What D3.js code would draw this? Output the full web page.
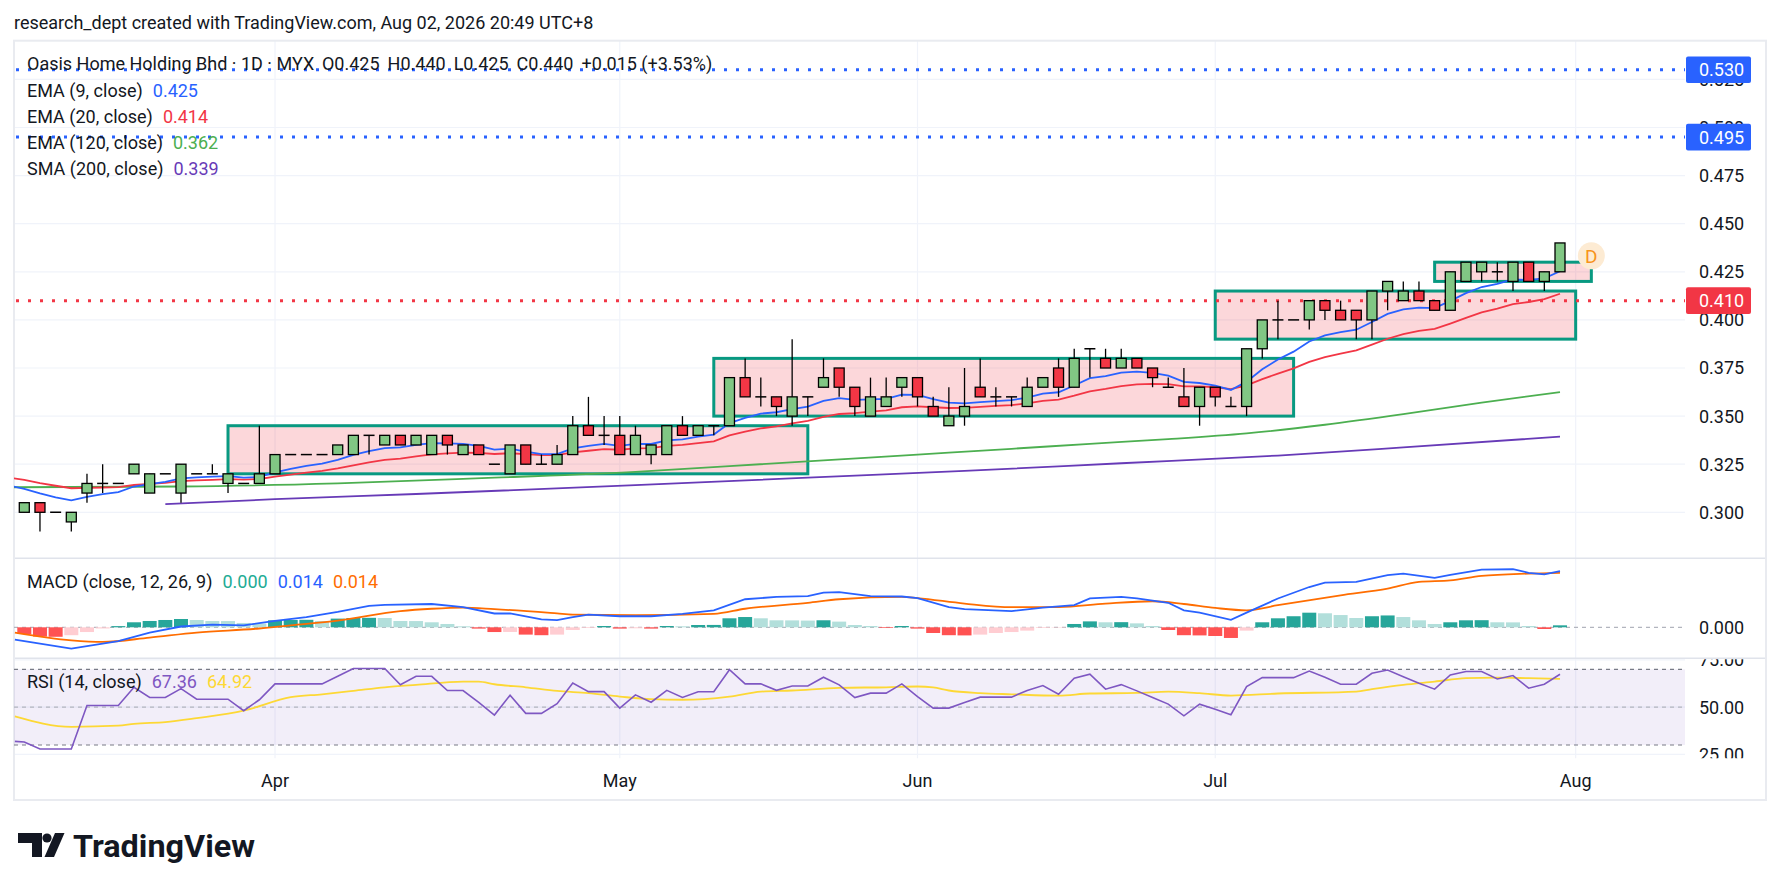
<!DOCTYPE html>
<html><head><meta charset="utf-8">
<script src="https://cdn.jsdelivr.net/npm/d3@7"></script>
<style>
html,body{margin:0;padding:0;background:#fff;}
svg text{font-family:Roboto,"Liberation Sans",Arial,sans-serif;}
</style></head>
<body><svg id="chart" width="1781" height="891"></svg>
<script>
// ---------------- DATA ----------------
const openP  = [.300,.305,.300,.295,.310,.315,.315,.320,.310,.320,.310,.320,.320,.315,.315,.315,.320,.330,.330,.330,
  .330,.330,.340,.335,.340,.335,.330,.340,.330,.335,.325,.320,.335,.325,.325,.330,.345,.340,.340,.330,
  .330,.330,.345,.340,.345,.345,.370,.360,.360,.350,.360,.365,.375,.365,.350,.355,.365,.370,.355,.345,
  .350,.365,.360,.360,.355,.365,.375,.365,.385,.380,.375,.380,.375,.365,.360,.355,.365,.355,.355,.385,
  .400,.400,.400,.410,.405,.405,.400,.415,.410,.415,.410,.405,.420,.425,.425,.420,.430,.420,.425];
const highP  = [.305,.305,.300,.300,.320,.325,.315,.325,.320,.320,.325,.320,.325,.320,.315,.345,.330,.330,.330,.330,
  .335,.340,.340,.340,.340,.340,.340,.340,.335,.335,.325,.335,.335,.330,.335,.350,.360,.350,.350,.345,
  .335,.345,.350,.345,.345,.370,.380,.370,.360,.390,.360,.380,.375,.365,.370,.370,.370,.370,.360,.365,
  .375,.380,.365,.360,.370,.370,.380,.385,.385,.385,.385,.380,.375,.370,.375,.365,.365,.360,.385,.400,
  .410,.400,.410,.410,.410,.405,.415,.420,.420,.420,.410,.425,.430,.430,.430,.430,.430,.425,.440];
const lowP   = [.300,.290,.300,.290,.305,.310,.315,.320,.310,.320,.305,.320,.320,.310,.315,.315,.320,.330,.330,.330,
  .330,.330,.330,.335,.335,.335,.330,.330,.330,.330,.325,.320,.325,.325,.325,.330,.340,.335,.330,.330,
  .325,.330,.340,.340,.340,.345,.360,.355,.350,.345,.350,.365,.360,.350,.350,.355,.360,.355,.350,.345,
  .345,.360,.355,.355,.355,.365,.360,.365,.370,.375,.375,.375,.365,.365,.355,.345,.355,.355,.350,.380,
  .390,.400,.395,.400,.400,.390,.390,.405,.410,.410,.405,.405,.420,.420,.420,.415,.420,.415,.425];
const closeP = [.305,.300,.300,.300,.315,.315,.315,.325,.320,.320,.325,.320,.320,.320,.315,.320,.330,.330,.330,.330,
  .335,.340,.340,.340,.335,.340,.340,.335,.335,.330,.325,.335,.325,.325,.330,.345,.340,.340,.330,.340,
  .335,.345,.340,.345,.345,.370,.360,.360,.355,.360,.360,.370,.365,.355,.360,.360,.370,.360,.350,.350,
  .355,.360,.360,.360,.365,.370,.365,.380,.385,.375,.380,.375,.370,.365,.355,.365,.360,.355,.385,.400,
  .400,.400,.410,.405,.400,.400,.415,.420,.415,.410,.405,.425,.430,.430,.425,.430,.420,.425,.440];

// EMA values read per bar; first value sits one bar before the first candle
const ema9  = [.3140,.3122,.3098,.3078,.3062,.3080,.3094,.3105,.3134,.3147,.3158,.3176,.3181,.3185,.3188,.3180,.3184,.3207,.3226,.3241,.3253,
  .3272,.3298,.3318,.3334,.3337,.3350,.3360,.3358,.3356,.3345,.3326,.3331,.3315,.3302,.3302,.3332,.3345,.3356,.3345,.3356,
  .3355,.3374,.3379,.3393,.3404,.3464,.3491,.3513,.3520,.3536,.3549,.3579,.3593,.3584,.3587,.3590,.3612,.3610,.3588,.3570,
  .3566,.3573,.3578,.3583,.3596,.3617,.3624,.3659,.3697,.3708,.3726,.3731,.3725,.3710,.3678,.3672,.3658,.3636,.3679,.3743,
  .3794,.3835,.3888,.3920,.3936,.3949,.3989,.4031,.4055,.4064,.4061,.4099,.4139,.4171,.4187,.4210,.4208,.4216,.4253];
const ema20 = [.3180,.3168,.3152,.3138,.3125,.3127,.3129,.3131,.3142,.3148,.3153,.3162,.3166,.3169,.3172,.3170,.3173,.3185,.3196,.3206,.3215,
  .3228,.3244,.3259,.3272,.3279,.3291,.3301,.3306,.3310,.3309,.3303,.3307,.3302,.3297,.3297,.3312,.3320,.3328,.3325,.3332,
  .3334,.3345,.3350,.3360,.3369,.3400,.3419,.3436,.3447,.3462,.3475,.3496,.3511,.3515,.3523,.3530,.3546,.3551,.3546,.3542,
  .3543,.3548,.3553,.3557,.3566,.3579,.3586,.3606,.3629,.3641,.3656,.3665,.3668,.3666,.3655,.3655,.3650,.3640,.3660,.3692,
  .3721,.3748,.3782,.3807,.3825,.3842,.3871,.3902,.3926,.3943,.3953,.3981,.4011,.4039,.4059,.4082,.4093,.4108,.4136];
// slow averages read at sample bars [barIndex, value]
const ema120 = [[-1,.3130],[10,.3134],[20,.3150],[30,.3180],[39,.3210],[45,.3240],[51,.3270],[57,.3300],[63,.3330],[68,.3356],
  [73,.3380],[78,.3410],[83,.3455],[88,.3510],[93,.3570],[98,.3625]];
const sma200 = [[9,.3043],[16,.3068],[25,.3095],[39,.3141],[50,.3180],[60,.3215],[70,.3255],[80,.3295],[88,.3337],[98,.3393]];

// MACD
const macdHist = [-0.0017,-0.00235,-0.0024,-0.0020,-0.0012,-0.0003,0.0003,0.00127,0.0016,0.00185,
  0.0021,0.00185,0.0016,0.00158,0.0011,0.00094,0.00177,0.00185,0.0019,0.0016,
  0.0022,0.00235,0.0024,0.00235,0.0016,0.00158,0.00127,0.00084,0.00025,-0.00033,
  -0.0012,-0.00118,-0.00185,-0.0020,-0.00185,-0.00068,-0.00018,0.00033,-0.00033,-0.00025,
  -0.00033,0.00033,0.00025,0.00058,0.0006,0.00228,0.0026,0.00228,0.00177,0.00175,
  0.0017,0.00178,0.00144,0.00058,0.00033,-0.00018,0.00033,-0.00033,-0.00144,-0.0020,
  -0.00205,-0.00185,-0.00144,-0.0012,-0.00084,-0.00018,-0.0001,0.00084,0.0015,0.00127,
  0.0013,0.001,0.00033,-0.00068,-0.0020,-0.00205,-0.0022,-0.0027,-0.00084,0.00127,
  0.00228,0.0028,0.0037,0.00355,0.0031,0.00235,0.0028,0.003,0.0026,0.00177,
  0.00084,0.00127,0.00177,0.0018,0.00127,0.00125,0.00033,-0.00043,0.0005];
const macdLine = [[-0.6,-0.0031],[3,-0.0054],[6,-0.0035],[8,-0.00135],[10,0.0002],[12,0.0007],[14,0.0005],[16,0.0016],[18,0.0026],
  [20,0.0039],[22,0.0054],[23,0.0057],[26,0.0059],[28,0.0051],[30,0.0035],[31,0.0035],[33,0.0020],[34,0.0018],[35,0.0026],
  [36,0.0032],[38,0.0028],[40,0.0028],[42,0.0034],[44,0.0043],[46,0.0071],[48,0.0077],[50,0.0079],[51,0.0088],[52,0.0089],
  [54,0.0079],[56,0.0078],[57,0.0074],[59,0.0051],[60,0.0046],[63,0.0041],[65,0.0050],[67,0.0056],[68,0.0073],[70,0.0077],
  [71,0.0073],[73,0.0062],[74,0.0043],[75,0.0037],[77,0.0019],[78,0.0037],[80,0.0073],[82,0.0102],[83,0.0113],[85,0.0115],
  [87,0.0132],[88,0.0136],[90,0.0125],[91,0.0133],[93,0.0146],[95,0.0147],[96,0.0138],[97,0.0134],[98,0.0142]];
const signalLine = [[-0.6,-0.00135],[3,-0.0033],[5,-0.0037],[8,-0.0026],[11,-0.00135],[15,-0.0003],[17,0.0005],[20,0.0017],
  [24,0.0041],[26,0.0047],[28,0.0050],[30,0.0046],[34,0.0035],[35,0.0032],[39,0.0031],[44,0.0034],[46,0.0047],[50,0.0062],
  [52,0.0071],[56,0.0077],[57,0.0074],[60,0.0060],[63,0.0051],[66,0.0051],[69,0.0060],[72,0.0066],[74,0.0059],[76,0.0049],
  [78,0.0043],[80,0.0056],[84,0.0081],[87,0.0098],[89,0.0115],[91,0.0119],[93,0.0130],[96,0.0136],[98,0.0138]];

// RSI (first value read at the pane's left edge, just before the first bar)
const rsiLead = 31.9;
const rsi = [31.6,27.9,27.9,27.9,50.9,50.9,50.9,60.5,55.1,55.1,59.8,54.2,54.2,54.2,48.1,53.9,62.3,62.3,62.3,62.3,
  66.3,70.4,70.4,70.4,61.8,66.3,66.3,58.8,58.8,52.5,45.8,56.3,46.7,46.7,51.8,62.8,58.2,58.2,49.5,56.5,
  52.6,58.9,55.1,58.1,58.1,69.8,62.3,62.3,58.9,61.2,61.2,65.8,61.8,55.1,57.4,57.4,62.3,55.6,49.5,49.5,
  52.5,55.3,55.3,55.3,58.8,61.4,56.8,65.3,67.4,59.5,61.9,58.6,55.1,51.6,45.4,51.6,48.9,46.0,60.9,65.6,
  65.6,65.6,69.1,65.8,62.1,62.1,67.9,69.6,66.1,62.6,59.5,67.0,68.8,68.8,64.9,66.7,60.0,62.1,67.36];
const rsiMA = [[-0.6,45.1],[3,39.6],[6,40.2],[7,41.2],[9,42.1],[11,44.2],[14,48.1],[17,55.3],[19,56.8],[21,58.6],[23,60.5],
  [25,61.8],[28,63.5],[29,63.5],[30,62.1],[32,60.5],[34,58.6],[36,57.4],[38,55.6],[40,54.2],[42,53.9],[45,55.6],[47,58.2],
  [49,58.8],[52,60.2],[55,60.5],[57,60.9],[58,60.4],[59,58.8],[61,57.4],[63,56.8],[66,56.1],[68,57.2],[71,57.5],[73,58.2],
  [75,57.4],[77,56.1],[80,57.2],[85,58.2],[86,59.5],[88,61.8],[90,63.5],[92,65.3],[94,65.6],[96,65.3],[98,64.92]];

// drawings: rectangles [startBar, endBar, top, bottom]
const boxes = [[13,50,.345,.320],[44,81,.380,.350],[76,99,.415,.390],[90,100,.430,.420]];
const hLines = [{p:.530,c:"#2962ff",t:"0.530"},{p:.495,c:"#2962ff",t:"0.495"},{p:.410,c:"#f23645",t:"0.410"}];
const priceTicks = ["0.300","0.325","0.350","0.375","0.400","0.425","0.450","0.475","0.500","0.525"];
const monthTicks = [["Apr",16],["May",38],["Jun",57],["Jul",76],["Aug",99]];
const rsiTicks = ["25.00","50.00","75.00"];
const dividendBar = 100, dividendPrice = .4333;

// legend texts
const titleParts = ["Oasis Home Holding Bhd · 1D · MYX","O0.425","H0.440","L0.425","C0.440","+0.015 (+3.53%)"];
const maLegend = [["EMA (9, close)","0.425","#2962ff"],["EMA (20, close)","0.414","#f23645"],
                  ["EMA (120, close)","0.362","#4caf50"],["SMA (200, close)","0.339","#673ab7"]];
const macdLegend = ["MACD (close, 12, 26, 9)",[["0.000","#22ab94"],["0.014","#2962ff"],["0.014","#ff6d00"]]];
const rsiLegend = ["RSI (14, close)",[["67.36","#7e57c2"],["64.92","#fdd835"]]];

// ---------------- LAYOUT ----------------
const L = 14, R = 1685, BOX_R = 1766, TOP = 40.7, M_TOP = 558.3, R_TOP = 658.3, R_BOT = 758.3, BOT = 800;
const FS = 18;
const svg = d3.select("#chart");
const TXT = "#131722", GRID = "#f0f3fa", SEP = "#e0e3eb";

const x = d3.scaleLinear().domain([0,98]).range([24.3,1560]);
const y = d3.scaleLinear().domain([0.300,0.450]).range([512.3,223.7]);
const yM = d3.scaleLinear().domain([0,0.01]).range([627.3,587.8]);
const yR = d3.scaleLinear().domain([30,70]).range([745,669.3]);

const defs = svg.append("defs");
function clip(id,y0,y1){defs.append("clipPath").attr("id",id).append("rect").attr("x",L).attr("y",y0).attr("width",R-L).attr("height",y1-y0);}
clip("cMain",TOP,M_TOP); clip("cMacd",M_TOP,R_TOP); clip("cRsi",R_TOP,R_BOT);
defs.append("clipPath").attr("id","cAxR").append("rect").attr("x",R).attr("y",R_TOP+1).attr("width",BOX_R-R).attr("height",R_BOT-R_TOP-1);
defs.append("clipPath").attr("id","cAxMain").append("rect").attr("x",R).attr("y",TOP+1).attr("width",BOX_R-R).attr("height",M_TOP-TOP-1);

// header
svg.append("text").attr("x",14).attr("y",23).attr("dy","0.35em").attr("font-size",FS).attr("fill",TXT)
  .text("research_dept created with TradingView.com, Aug 02, 2026 20:49 UTC+8");

// gridlines
const g = svg.append("g");
monthTicks.forEach(([m,i])=>{
  g.append("line").attr("x1",x(i)).attr("x2",x(i)).attr("y1",TOP).attr("y2",R_BOT).attr("stroke",GRID).attr("stroke-width",1.2);
});
priceTicks.forEach(t=>{
  g.append("line").attr("x1",L).attr("x2",R).attr("y1",y(+t)).attr("y2",y(+t)).attr("stroke",GRID).attr("stroke-width",1.2);
});
[25,50,75].forEach(v=>{
  g.append("line").attr("x1",L).attr("x2",R).attr("y1",yR(v)).attr("y2",yR(v)).attr("stroke",GRID).attr("stroke-width",1.2);
});

// pane separators and outer frame
[M_TOP,R_TOP].forEach(yy=>svg.append("line").attr("x1",L).attr("x2",BOX_R).attr("y1",yy).attr("y2",yy).attr("stroke",SEP).attr("stroke-width",1.5));
svg.append("rect").attr("x",L).attr("y",TOP).attr("width",BOX_R-L).attr("height",BOT-TOP)
  .attr("fill","none").attr("stroke","#e9ebf0").attr("stroke-width",2);

// ---------- main pane ----------
const main = svg.append("g").attr("clip-path","url(#cMain)");
boxes.forEach(([a,b,t,bt])=>{
  main.append("rect").attr("x",x(a)).attr("y",y(t)).attr("width",x(b)-x(a)).attr("height",y(bt)-y(t))
    .attr("fill","rgba(242,54,69,0.2)").attr("stroke","#089981").attr("stroke-width",3);
});
hLines.forEach(h=>{
  main.append("line").attr("x1",L+2).attr("x2",R).attr("y1",y(h.p)).attr("y2",y(h.p))
    .attr("stroke",h.c).attr("stroke-width",3).attr("stroke-dasharray","3 9");
});
const lineIdx = (arr,sc,curve)=>d3.line().x(d=>x(d[0])).y(d=>sc(d[1])).curve(curve||d3.curveLinear)(arr);
const perBar = arr => arr.map((v,k)=>[k-1,v]);
main.append("path").attr("d",lineIdx(sma200,y,d3.curveMonotoneX)).attr("fill","none").attr("stroke","#673ab7").attr("stroke-width",1.8);
main.append("path").attr("d",lineIdx(ema120,y,d3.curveMonotoneX)).attr("fill","none").attr("stroke","#4caf50").attr("stroke-width",1.8);
main.append("path").attr("d",lineIdx(perBar(ema20),y)).attr("fill","none").attr("stroke","#f23645").attr("stroke-width",1.8);
main.append("path").attr("d",lineIdx(perBar(ema9),y)).attr("fill","none").attr("stroke","#2962ff").attr("stroke-width",1.8);

// candles
const bw = 10;
const cg = main.append("g");
closeP.forEach((c,i)=>{
  const o=openP[i], h=highP[i], l=lowP[i], cx=x(i);
  cg.append("line").attr("x1",cx).attr("x2",cx).attr("y1",y(h)).attr("y2",y(l)).attr("stroke","#000").attr("stroke-width",1.3);
  if (Math.abs(c-o)<1e-9){
    cg.append("line").attr("x1",cx-bw/2-0.5).attr("x2",cx+bw/2+0.5).attr("y1",y(c)).attr("y2",y(c)).attr("stroke","#000").attr("stroke-width",1.5);
  } else {
    const top=y(Math.max(o,c)), bot=y(Math.min(o,c));
    cg.append("rect").attr("x",cx-bw/2).attr("y",top).attr("width",bw).attr("height",bot-top)
      .attr("fill", c>o?"#81c784":"#f23645").attr("stroke","#000").attr("stroke-width",1.3);
  }
});
// dividend marker
svg.append("circle").attr("cx",x(dividendBar)).attr("cy",y(dividendPrice)).attr("r",13.5).attr("fill","#fdebd3");
svg.append("text").attr("x",x(dividendBar)).attr("y",y(dividendPrice)).attr("dy","0.36em").attr("text-anchor","middle")
  .attr("font-size",19).attr("fill","#f7931a").text("D");

// price axis (labels under the price-line tags are partly hidden, as in TradingView)
const pa = svg.append("g").attr("clip-path","url(#cAxMain)");
priceTicks.forEach(t=>{
  pa.append("text").attr("x",1699).attr("y",y(+t)).attr("dy","0.36em").attr("font-size",FS).attr("fill",TXT).text(t);
});
hLines.forEach(h=>{
  pa.append("rect").attr("x",1686).attr("y",y(h.p)-13.3).attr("width",65).attr("height",26.6).attr("rx",2).attr("fill",h.c);
  pa.append("text").attr("x",1699).attr("y",y(h.p)).attr("dy","0.36em").attr("font-size",FS).attr("fill","#fff").text(h.t);
});

// legends (flowing text with gaps)
function legendLine(yy, label, vals, gap){
  const t = svg.append("text").attr("x",27).attr("y",yy).attr("dy","0.36em").attr("font-size",FS).attr("fill",TXT);
  t.append("tspan").text(label);
  vals.forEach(([v,c])=>t.append("tspan").attr("dx",gap).attr("fill",c).text(v));
}
legendLine(63.3, titleParts[0], titleParts.slice(1).map(p=>[p,TXT]), 8);
const maY = [90.7,116.5,142.5,168.3];
maLegend.forEach(([lab,v,c],k)=>legendLine(maY[k], lab, [[v,c]], 10));

// ---------- MACD pane ----------
const mg = svg.append("g").attr("clip-path","url(#cMacd)");
mg.append("line").attr("x1",L).attr("x2",R).attr("y1",yM(0)).attr("y2",yM(0)).attr("stroke","#b2b5be").attr("stroke-width",1.2).attr("stroke-dasharray","4 4");
macdHist.forEach((v,i)=>{
  const prev = i>0?macdHist[i-1]:0;
  const col = v>=0 ? (v>prev?"#26a69a":"#b2dfdb") : (v<prev?"#ff5252":"#ffcdd2");
  mg.append("rect").attr("x",x(i)-7).attr("width",14).attr("y",Math.min(yM(v),yM(0))).attr("height",Math.abs(yM(v)-yM(0))).attr("fill",col);
});
mg.append("path").attr("d",lineIdx(signalLine,yM,d3.curveMonotoneX)).attr("fill","none").attr("stroke","#ff6d00").attr("stroke-width",1.8);
mg.append("path").attr("d",lineIdx(macdLine,yM)).attr("fill","none").attr("stroke","#2962ff").attr("stroke-width",1.8);
svg.append("text").attr("x",1699).attr("y",yM(0)).attr("dy","0.36em").attr("font-size",FS).attr("fill",TXT).text("0.000");
legendLine(581.7, macdLegend[0], macdLegend[1], 10);

// ---------- RSI pane ----------
const rg = svg.append("g").attr("clip-path","url(#cRsi)");
rg.append("rect").attr("x",L).attr("width",R-L).attr("y",yR(70)).attr("height",yR(30)-yR(70)).attr("fill","rgba(126,87,194,0.1)");
[[70,"#787b86"],[50,"#b2b5be"],[30,"#787b86"]].forEach(([v,c])=>
  rg.append("line").attr("x1",L).attr("x2",R).attr("y1",yR(v)).attr("y2",yR(v)).attr("stroke",c).attr("stroke-width",1.2).attr("stroke-dasharray","4 4"));
rg.append("path").attr("d",lineIdx(rsiMA,yR,d3.curveMonotoneX)).attr("fill","none").attr("stroke","#fdd835").attr("stroke-width",1.8);
rg.append("path").attr("d",lineIdx([[-0.6,rsiLead]].concat(rsi.map((v,i)=>[i,v])),yR)).attr("fill","none").attr("stroke","#7e57c2").attr("stroke-width",1.6);
const ra = svg.append("g").attr("clip-path","url(#cAxR)");
rsiTicks.forEach(t=>ra.append("text").attr("x",1699).attr("y",yR(+t)).attr("dy","0.36em").attr("font-size",FS).attr("fill",TXT).text(t));
legendLine(681.7, rsiLegend[0], rsiLegend[1], 10);

// time axis
monthTicks.forEach(([m,i])=>svg.append("text").attr("x",x(i)).attr("y",781).attr("dy","0.36em").attr("text-anchor","middle")
  .attr("font-size",FS).attr("fill",TXT).text(m));

// TradingView logo
const lg = svg.append("g").attr("fill","#131722");
lg.append("path").attr("d","M18,833 H42 V857 H32 V843 H18 Z");
lg.append("circle").attr("cx",47).attr("cy",838).attr("r",4.6);
lg.append("path").attr("d","M55,833 H64.5 L54,857 H44.5 Z");
lg.append("text").attr("x",73).attr("y",857).attr("font-size",32).attr("font-weight",700)
  .attr("textLength",182).attr("lengthAdjust","spacingAndGlyphs").text("TradingView");
</script></body></html>
